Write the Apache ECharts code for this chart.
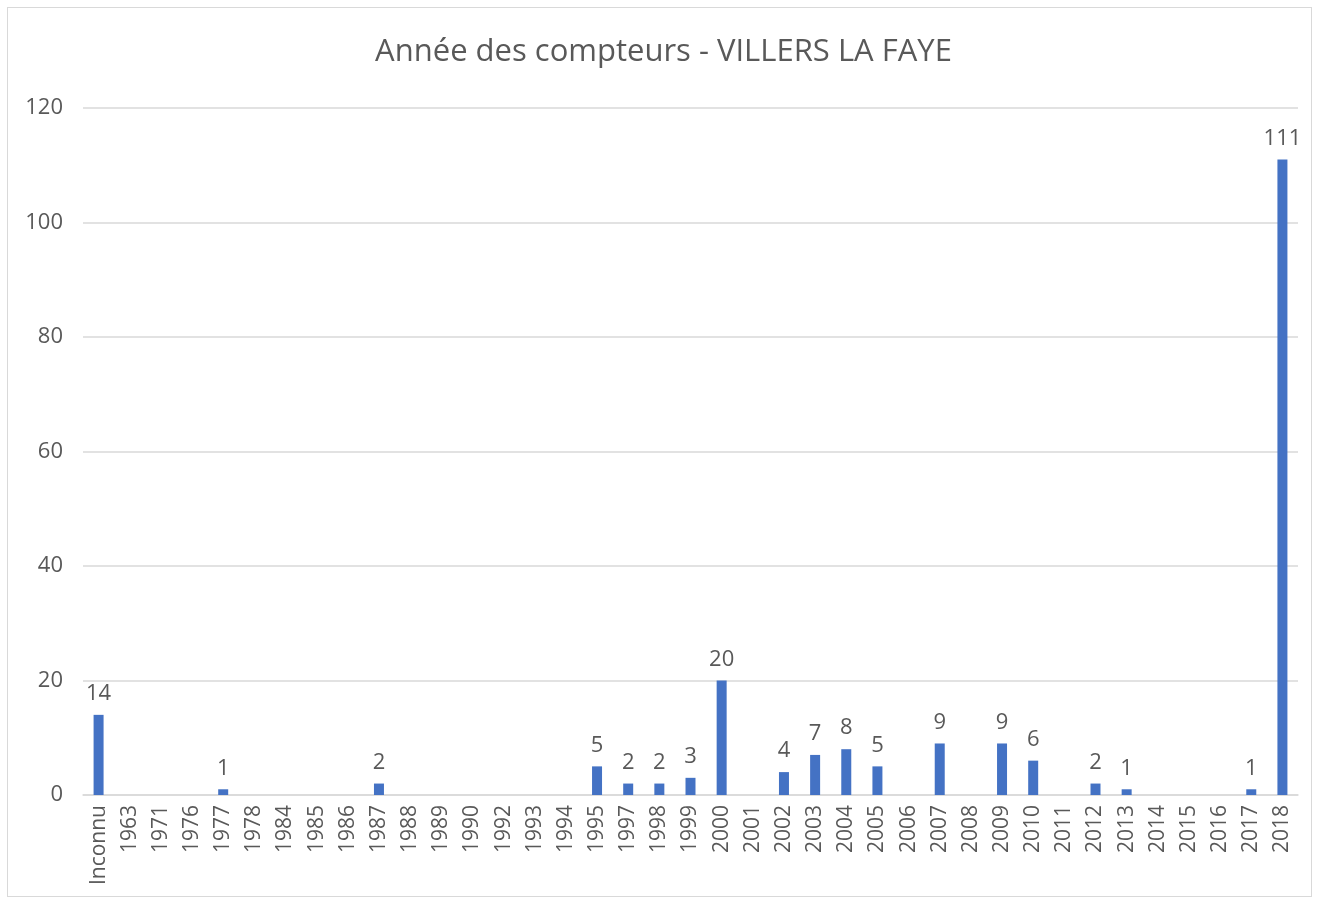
<!DOCTYPE html>
<html>
<head>
<meta charset="utf-8">
<script src="https://cdn.jsdelivr.net/npm/echarts@6/dist/echarts.min.js"></script>
<style>
  html, body { margin: 0; padding: 0; background: #ffffff; }
  #frame { position: absolute; left: 7px; top: 7px; width: 1305px; height: 890px; border: 1px solid #d9d9d9; box-sizing: border-box; }
  #main { position: absolute; left: 0; top: 0; width: 1327px; height: 902px; }
</style>
</head>
<body>
<div id="frame"></div>
<div id="main"></div>
<script>
// catégories (année) et nombre de compteurs
var years = ['Inconnu', '1963', '1971', '1976', '1977', '1978', '1984', '1985', '1986', '1987',
  '1988', '1989', '1990', '1992', '1993', '1994', '1995', '1997', '1998', '1999',
  '2000', '2001', '2002', '2003', '2004', '2005', '2006', '2007', '2008', '2009',
  '2010', '2011', '2012', '2013', '2014', '2015', '2016', '2017', '2018']
var counts = [14, null, null, null, 1, null, null, null, null, 2,
  null, null, null, null, null, null, 5, 2, 2, 3,
  20, null, 4, 7, 8, 5, null, 9, null, 9,
  6, null, 2, 1, null, null, null, 1, 111]
var yTicks = [0, 20, 40, 60, 80, 100, 120]

var textColor = '#595959'
var font = '"Open Sans", "Liberation Sans", sans-serif'

var chart = echarts.init(document.getElementById('main'))
chart.setOption({
  animation: false,
  title: {
    text: 'Année des compteurs - VILLERS LA FAYE',
    left: 'center',
    top: 32,
    textStyle: { color: textColor, fontSize: 31, fontWeight: 'normal', fontFamily: font }
  },
  grid: { left: 83, right: 29, top: 108, bottom: 107 },
  xAxis: {
    type: 'category',
    data: years,
    axisTick: { show: false },
    axisLine: { lineStyle: { color: '#d9d9d9', width: 1.5 } },
    axisLabel: {
      rotate: 90,
      interval: 0,
      margin: 10,
      color: textColor,
      fontSize: 21,
      fontFamily: font
    }
  },
  yAxis: {
    type: 'value',
    min: yTicks[0],
    max: yTicks[yTicks.length - 1],
    interval: 20,
    axisLine: { show: false },
    axisTick: { show: false },
    splitLine: { lineStyle: { color: '#d9d9d9', width: 1.5 } },
    axisLabel: { color: textColor, fontSize: 22, fontFamily: font, margin: 20 }
  },
  series: [{
    type: 'bar',
    data: counts,
    barWidth: 10,
    itemStyle: { color: '#4472c4' },
    label: {
      show: true,
      position: 'top',
      distance: 10,
      color: textColor,
      fontSize: 22,
      fontFamily: font
    }
  }]
})
</script>
</body>
</html>
